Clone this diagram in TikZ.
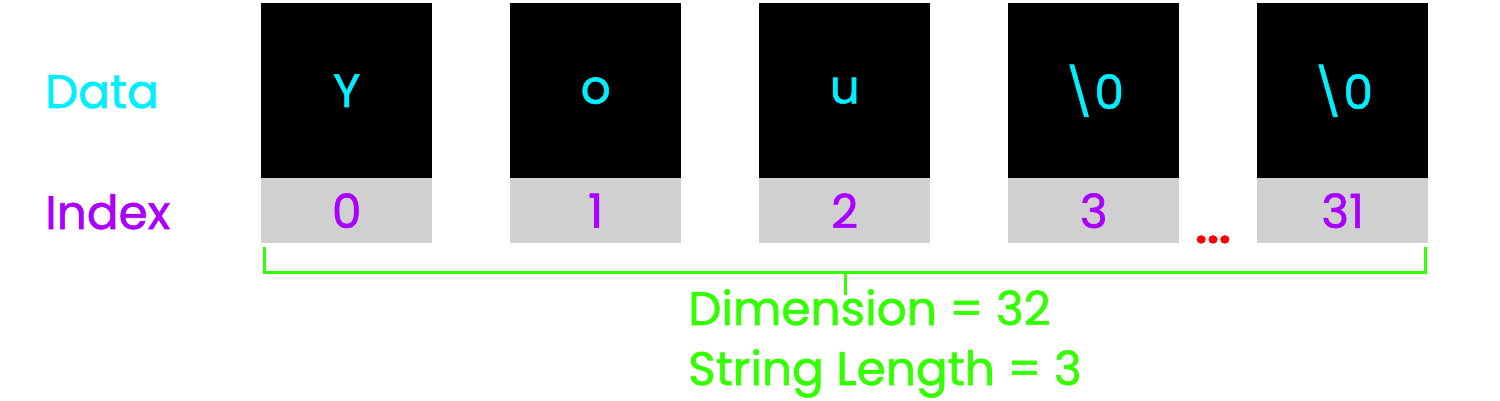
\documentclass[tikz,border=0pt]{standalone}
\usepackage{fontspec}
\setmainfont{Poppins}[FakeBold=1.2]
\definecolor{cy}{RGB}{0,238,255}
\definecolor{pu}{RGB}{170,0,255}
\definecolor{gr}{RGB}{51,255,0}
\definecolor{lg}{RGB}{208,208,208}
\definecolor{rd}{RGB}{255,0,0}
\begin{document}
\begin{tikzpicture}[x=1pt,y=-1pt,
  txt/.style={font=\fontsize{47}{56}\selectfont, inner sep=0pt},
  databox/.style={fill=black, minimum width=171pt, minimum height=175pt, inner sep=0pt, text=cy, font=\fontsize{47}{56}\selectfont},
  idxbox/.style={fill=lg, minimum width=171pt, minimum height=65pt, inner sep=0pt, text=pu, font=\fontsize{47}{56}\selectfont},
  brace/.style={draw=gr, line width=3pt}]
\useasboundingbox (0,0) rectangle (1500,400);
\node[txt, text=cy, anchor=base west] (ldata) at (45,108) {Data};
\node[txt, text=pu, anchor=base west] (lidx) at (45,229) {Index};
\foreach \i/\d/\n [count=\k from 0] in {0/Y/0, 1/o/1, 2/u/2, 3/\textbackslash 0/3, 4/\textbackslash 0/31} {
  \node[databox, anchor=north west] (d\i) at (261+249*\i,3) {\d};
  \node[idxbox, anchor=north west] (x\i) at (261+249*\i,178) {\n};
}
\node[text=rd, font=\fontsize{42}{42}\selectfont\bfseries, inner sep=0pt, anchor=base] (dots) at (1213,243) {...};
\coordinate (bl) at (264.5,247);
\coordinate (br) at (1425.5,247);
\coordinate (bm) at (845,272);
\coordinate (bt) at (845,295);
\draw[brace] (bl) -- (264.5,272) -- (1425.5,272) -- (br);
\draw[brace] (bm) -- (bt);
\node[txt, text=gr, anchor=base west] (dim) at (688,325) {Dimension = 32};
\node[txt, text=gr, anchor=base west] (slen) at (688,385) {String Length = 3};
\end{tikzpicture}
\end{document}
